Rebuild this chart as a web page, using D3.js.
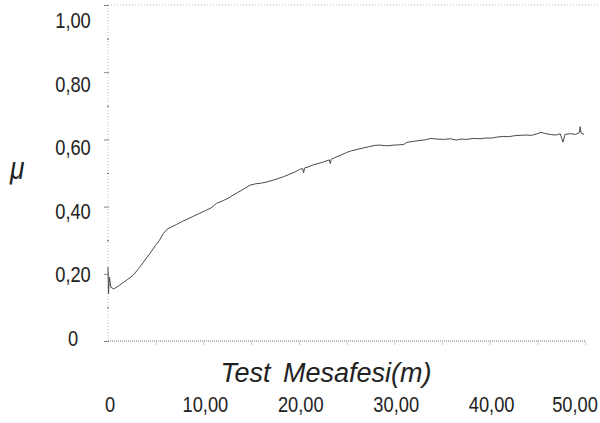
<!DOCTYPE html>
<html lang="tr">
<head>
<meta charset="utf-8">
<style>
  body { margin: 0; background: #fff; }
  svg text { font-family: "Liberation Sans", Arial, sans-serif; fill: #222; }
</style>
</head>
<body>
<div id="chart"></div>
<script src="https://cdn.jsdelivr.net/npm/d3@7"></script>
<script>

var w = 600, h = 423;

// friction coefficient vs test distance
var distance = [0, 0.05, 0.15, 0.3, 0.6, 1.0, 1.5, 2.0, 2.65, 3.2, 3.8, 4.4, 5.0, 5.4, 5.8, 6.2, 6.7, 7.2, 7.8, 8.5,
  9.0, 9.6, 10.2, 10.8, 11.4, 12.0, 12.6, 13.1, 13.6, 14.2, 14.9, 15.5, 16.1, 16.6, 17.2, 17.8, 18.4, 19.0, 19.6, 20.1,
  20.4, 20.5, 20.6, 21.0, 21.5, 22.0, 22.6, 23.2, 23.3, 23.4, 23.8, 24.4, 25.0, 25.5, 26.1, 26.7, 27.3, 27.9, 28.5, 29.2,
  30.0, 30.6, 31.0, 31.3, 32.0, 32.7, 33.3, 33.8, 34.5, 35.2, 35.9, 36.5, 37.0, 37.6, 38.3, 39.0, 39.6, 40.2, 40.8, 41.4,
  42.0, 42.6, 43.2, 43.8, 44.4, 45.0, 45.4, 45.9, 46.5, 47.0, 47.4, 47.7, 47.9, 48.5, 49.0, 49.4, 49.5, 49.6, 49.9];
var mu = [0.22, 0.14, 0.19, 0.16, 0.155, 0.162, 0.172, 0.182, 0.196, 0.215, 0.238, 0.261, 0.285, 0.300, 0.320, 0.333, 0.340, 0.347, 0.356, 0.365,
  0.372, 0.380, 0.388, 0.396, 0.410, 0.417, 0.425, 0.434, 0.442, 0.452, 0.464, 0.468, 0.470, 0.473, 0.478, 0.483, 0.489, 0.496, 0.503, 0.511,
  0.513, 0.500, 0.515, 0.518, 0.524, 0.528, 0.533, 0.539, 0.528, 0.541, 0.546, 0.553, 0.561, 0.566, 0.570, 0.574, 0.578, 0.582, 0.583, 0.581,
  0.583, 0.584, 0.585, 0.591, 0.594, 0.597, 0.599, 0.603, 0.601, 0.600, 0.602, 0.598, 0.601, 0.600, 0.603, 0.602, 0.604, 0.604, 0.607, 0.609,
  0.608, 0.611, 0.612, 0.613, 0.612, 0.617, 0.621, 0.617, 0.614, 0.613, 0.617, 0.592, 0.615, 0.617, 0.615, 0.620, 0.638, 0.618, 0.615];

var yTicks = [0, 0.2, 0.4, 0.6, 0.8, 1.0];
var yTickLabels = ["0", "0,20", "0,40", "0,60", "0,80", "1,00"];
var xTicks = [0, 10, 20, 30, 40, 50];
var xTickLabels = ["0", "10,00", "20,00", "30,00", "40,00", "50,00"];

var x = d3.scaleLinear().domain([0, 50]).range([108, 585]);
var y = d3.scaleLinear().domain([0, 1]).range([341, 5]);
// the tick labels sit a little off their ticks in the original
var yLab = d3.scaleLinear().domain([0, 1]).range([345.5, 28]);

var svg = d3.select("#chart")
        .append("svg")
        .attr("width", w)
        .attr("height", h);

// frame lines (dotted, light)
svg.append("line")
  .attr("x1", x(0)).attr("x2", w).attr("y1", y(1)).attr("y2", y(1))
  .style("stroke", "#bbb").style("stroke-dasharray", "1,2");
svg.append("line")
  .attr("x1", x(0)).attr("x2", x(0)).attr("y1", y(1)).attr("y2", y(0))
  .style("stroke", "#c4c4c4").style("stroke-dasharray", "1,2");
svg.append("line")
  .attr("x1", x(0)).attr("x2", x(50)).attr("y1", y(0)).attr("y2", y(0))
  .style("stroke", "#777").style("stroke-dasharray", "1,1");

// y axis
var yAxis = d3.axisLeft(y)
  .tickValues(yTicks)
  .tickSize(5)
  .tickFormat((d, i) => "");
var gy = svg.append("g").attr("transform", "translate(" + (x(0) + 1) + ",0)").call(yAxis);
gy.select(".domain").remove();
gy.selectAll("line").style("stroke", "#888");

var yMinor = d3.axisLeft(y)
  .tickValues([0.1, 0.3, 0.5, 0.7, 0.9])
  .tickSize(2)
  .tickFormat("");
var gym = svg.append("g").attr("transform", "translate(" + (x(0) + 1) + ",0)").call(yMinor);
gym.select(".domain").remove();
gym.selectAll("line").style("stroke", "#666");

svg.selectAll(".ylab")
  .data(yTicks)
  .enter().append("text")
  .attr("class", "ylab")
  .attr("transform", d => "translate(73," + yLab(d) + ") scale(0.83,1)")
  .attr("text-anchor", "middle")
  .style("font-size", "22px")
  .text((d, i) => yTickLabels[i]);

// x axis minor ticks
var xAxis = d3.axisBottom(x)
  .tickValues([5, 10, 15, 20, 25, 30, 35, 40, 45, 50])
  .tickSize(4)
  .tickFormat("");
var gx = svg.append("g").attr("transform", "translate(0," + y(0) + ")").call(xAxis);
gx.select(".domain").remove();
gx.selectAll("line").style("stroke", "#ccc");

svg.selectAll(".xlab")
  .data(xTicks)
  .enter().append("text")
  .attr("class", "xlab")
  .attr("transform", d => "translate(" + (d == 50 ? 575 : x(d) + 2) + ",412) scale(0.83,1)")
  .attr("text-anchor", "middle")
  .style("font-size", "22px")
  .text((d, i) => xTickLabels[i]);

// curve
var line = d3.line()
  .x((d, i) => x(distance[i]))
  .y((d, i) => y(mu[i]));

svg.append("path")
  .datum(mu)
  .attr("d", line)
  .style("fill", "none")
  .style("stroke", "#4a4a4a")
  .style("stroke-width", 1);

// axis titles
svg.append("text")
  .attr("x", 326)
  .attr("y", 382)
  .attr("text-anchor", "middle")
  .style("font-style", "italic")
  .style("font-size", "27px")
  .style("word-spacing", "5px")
  .text("Test Mesafesi(m)");

svg.append("text")
  .attr("transform", "translate(10,179) scale(0.85,1)")
  .style("font-style", "italic")
  .style("font-size", "31px")
  .text("μ");

</script>
</body>
</html>
